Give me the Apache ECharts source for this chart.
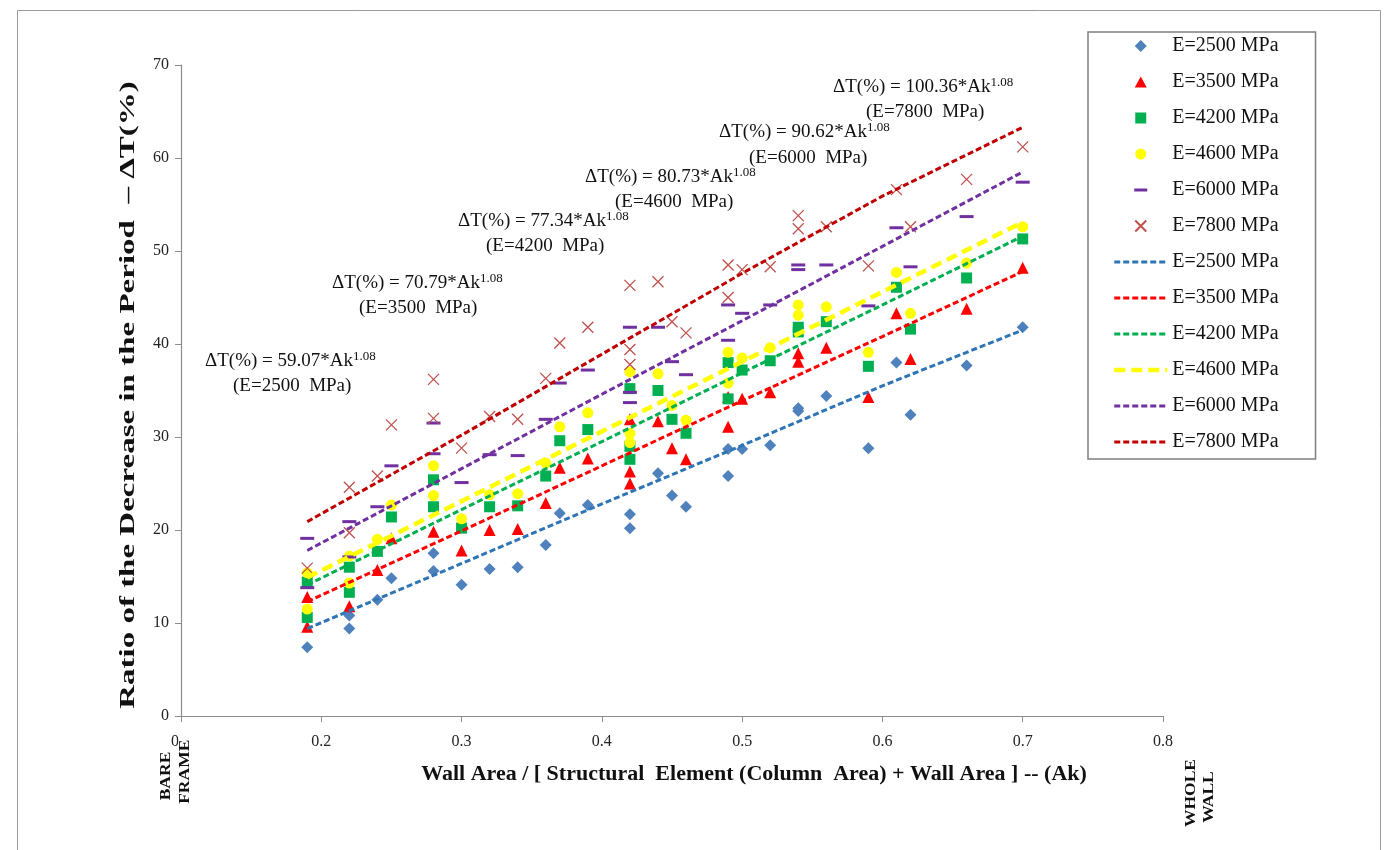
<!DOCTYPE html>
<html>
<head>
<meta charset="utf-8">
<script src="https://cdn.jsdelivr.net/npm/echarts@6/dist/echarts.min.js"></script>
<style>
html,body{margin:0;padding:0;background:#fff;}
#chart{width:1388px;height:850px;}
</style>
</head>
<body>
<div id="chart"></div>
<script>
// ---- data ----
const seriesNames = ['E=2500 MPa','E=3500 MPa','E=4200 MPa','E=4600 MPa','E=6000 MPa','E=7800 MPa'];
const coeffs = ['59.07','70.79','77.34','80.73','90.62','100.36'];
const xTickLabels = ['0.1','0.2','0.3','0.4','0.5','0.6','0.7','0.8'];
const yTickLabels = ['0','10','20','30','40','50','60','70'];

const pts2500 = [[0.19,7.4],[0.22,9.4],[0.22,10.8],[0.24,12.5],[0.25,14.8],[0.28,15.6],[0.28,17.5],[0.30,14.1],[0.32,15.8],[0.34,16.0],[0.36,18.4],[0.37,21.8],[0.39,22.7],[0.42,20.2],[0.42,21.7],[0.44,26.1],[0.45,23.7],[0.46,22.5],[0.49,25.8],[0.49,28.7],[0.50,28.7],[0.52,29.1],[0.54,32.8],[0.54,33.1],[0.56,34.4],[0.59,28.8],[0.61,38.0],[0.62,32.4],[0.66,37.7],[0.70,41.8]];
const pts3500 = [[0.19,9.6],[0.19,12.8],[0.22,11.8],[0.24,15.7],[0.25,19.1],[0.28,19.8],[0.30,17.8],[0.32,20.0],[0.34,20.1],[0.36,22.9],[0.37,26.7],[0.39,27.7],[0.42,25.0],[0.42,26.3],[0.42,31.9],[0.44,31.7],[0.45,28.8],[0.46,27.6],[0.49,31.1],[0.49,34.3],[0.50,34.1],[0.52,34.8],[0.54,38.1],[0.54,39.0],[0.56,39.6],[0.59,34.3],[0.61,43.3],[0.62,38.4],[0.66,43.8],[0.70,48.2]];
const pts4200 = [[0.19,10.6],[0.19,14.4],[0.22,13.3],[0.22,16.0],[0.24,17.7],[0.25,21.4],[0.28,22.5],[0.28,25.4],[0.30,20.2],[0.32,22.5],[0.34,22.6],[0.36,25.8],[0.37,29.6],[0.39,30.8],[0.42,27.6],[0.42,29.0],[0.42,35.2],[0.44,35.0],[0.45,31.9],[0.46,30.4],[0.49,34.1],[0.49,38.0],[0.50,37.2],[0.52,38.2],[0.54,41.3],[0.54,41.8],[0.56,42.4],[0.59,37.6],[0.61,46.1],[0.62,41.6],[0.66,47.1],[0.70,51.3]];
const pts4600 = [[0.19,11.5],[0.19,15.4],[0.22,14.3],[0.22,17.2],[0.24,19.0],[0.25,22.7],[0.28,23.7],[0.28,26.9],[0.30,21.2],[0.32,23.8],[0.34,23.9],[0.36,27.2],[0.37,31.1],[0.39,32.6],[0.42,29.4],[0.42,30.4],[0.42,37.0],[0.44,36.8],[0.45,33.4],[0.46,31.8],[0.49,35.8],[0.49,39.1],[0.50,38.5],[0.52,39.6],[0.54,43.1],[0.54,44.2],[0.56,44.0],[0.59,39.1],[0.61,47.7],[0.62,43.3],[0.66,48.7],[0.70,52.6]];
const pts6000 = [[0.19,13.8],[0.19,19.1],[0.22,17.1],[0.22,20.9],[0.24,22.5],[0.25,26.9],[0.28,28.2],[0.28,31.5],[0.30,25.1],[0.32,28.1],[0.34,28.0],[0.36,31.9],[0.37,35.8],[0.39,37.2],[0.42,33.7],[0.42,34.8],[0.42,41.8],[0.44,41.8],[0.45,38.1],[0.46,36.7],[0.49,40.4],[0.49,44.2],[0.50,43.3],[0.52,44.2],[0.54,48.0],[0.54,48.5],[0.56,48.5],[0.59,44.1],[0.61,52.5],[0.62,48.3],[0.66,53.7],[0.70,57.4]];
const pts7800 = [[0.19,15.9],[0.22,19.7],[0.22,24.6],[0.24,25.8],[0.25,31.3],[0.28,32.0],[0.28,36.2],[0.30,28.8],[0.32,32.2],[0.34,31.9],[0.36,36.3],[0.37,40.1],[0.39,41.8],[0.42,37.8],[0.42,39.4],[0.42,46.3],[0.44,46.7],[0.45,42.4],[0.46,41.2],[0.49,45.0],[0.49,48.5],[0.50,48.0],[0.52,48.3],[0.54,52.4],[0.54,53.8],[0.56,52.6],[0.59,48.4],[0.61,56.6],[0.62,52.6],[0.66,57.7],[0.70,61.2]];

// trend lines, read at Ak = 0.19, 0.3, 0.4, 0.5, 0.6, 0.7
const trendX = [0.19,0.3,0.4,0.5,0.6,0.7];
const fit2500 = [9.4,16.4,22.8,29.1,35.5,41.5];
const fit3500 = [12.3,19.9,26.9,33.9,40.8,47.8];
const fit4200 = [14.1,22.2,29.5,36.9,44.2,51.6];
const fit4600 = [14.9,23.1,30.6,38.1,45.6,53.1];
const fit6000 = [17.8,26.6,34.6,42.5,50.5,58.5];
const fit7800 = [20.9,30.2,38.9,47.6,55.9,63.3];

// ---- styles ----
const F = '"Liberation Serif", "Times New Roman", serif';
const scatterData = [pts2500,pts3500,pts4200,pts4600,pts6000,pts7800];
const fitData = [fit2500,fit3500,fit4200,fit4600,fit6000,fit7800];
const markerColors = ['#4f81bd','#ff0000','#00b050','#ffff00','#7030a0','#c0504d'];
const lineColors = ['#2e75b6','#ff0000','#00b050','#ffff00','#7030a0','#c00000'];
const crossPath = 'path://M0,0L10,10M10,0L0,10';
const markerSymbols = ['diamond','triangle','rect','circle','rect',crossPath];
const markerSizes = [12,12,11,11,[14,3],11];
const legendIcons = [
  'path://M0,0M53,14M26.5,1L32.5,7L26.5,13L20.5,7Z',
  'path://M0,0M53,14M26.5,1.5L32.5,12.5L20.5,12.5Z',
  'path://M0,0M53,14M21,1.5H32V12.5H21Z',
  'path://M0,0M53,14M32,7A5.5,5.5,0,1,1,21,7A5.5,5.5,0,1,1,32,7Z',
  'path://M0,0M53,14M20,5.5H33V8.5H20Z',
  'path://M0,0M53,14M21,1.5L32,12.5M32,1.5L21,12.5'
];

const series = [];
const legendData = [];
seriesNames.forEach((n,i)=>{
  const isCross = i===5;
  series.push({
    name: n, type:'scatter', data: scatterData[i],
    symbol: markerSymbols[i], symbolSize: markerSizes[i], z: 2,
    itemStyle: isCross ? {color:'rgba(0,0,0,0)', borderColor: markerColors[i], borderWidth:1.3, opacity:1}
                       : {color: markerColors[i], opacity:1}
  });
  legendData.push({name:n, icon: legendIcons[i]});
});
seriesNames.forEach((n,i)=>{
  const nm = n + ' ';
  const yellow = i===3;
  const ls = {color: lineColors[i], width: yellow?4.5:3, type: yellow?[11,6]:[6,3]};
  series.push({
    name: nm, type:'line', smooth:false, showSymbol:false, symbol:'none', z: 3,
    data: trendX.map((x,k)=>[x, fitData[i][k]]),
    lineStyle: ls,
    itemStyle:{color:'rgba(0,0,0,0)', borderWidth:0}
  });
  legendData.push({name:nm, itemStyle:{opacity:0, color:'rgba(0,0,0,0)', borderWidth:0}, lineStyle: ls});
});

// annotation texts
const annPos = [[205,362,233,388],[332,284,359,310],[458,222,486,248],[585,178,615,204],[719,133,749,160],[833,88,866,114]];
const graphics = [
  {type:'rect', shape:{x:17.5,y:10.5,width:1363,height:860}, style:{fill:'none', stroke:'#9a9a9a', lineWidth:1}, silent:true, z:-10}
];
coeffs.forEach((c,i)=>{
  const p = annPos[i];
  graphics.push({type:'text', left:p[0], top:p[1]-12, z:10,
    style:{text:'{n|ΔT(%) = '+c+'*Ak}{s|1.08}', rich:{
      n:{fontFamily:F, fontSize:19, fill:'#111', lineHeight:24},
      s:{fontFamily:F, fontSize:13, fill:'#111', padding:[0,0,10,0], lineHeight:24}
    }}});
  graphics.push({type:'text', left:p[2], top:p[3]-11, z:10,
    style:{text:'(E='+seriesNames[i].slice(2,6)+'  MPa)', fontFamily:F, fontSize:19, fill:'#111'}});
});
// axis titles
graphics.push({type:'text', x:754, y:775, scaleX:1.1, z:10,
  style:{text:'Wall Area / [ Structural  Element (Column  Area) + Wall Area ] -- (Ak)', fontFamily:F, fontSize:20, fontWeight:'bold', fill:'#111', align:'center', verticalAlign:'middle'}});
graphics.push({type:'text', x:128, y:395, rotation:Math.PI/2, scaleX:1.5, z:10,
  style:{text:'Ratio of the Decrease in the Period  – ΔT(%)', fontFamily:F, fontSize:22, fontWeight:'bold', fill:'#111', align:'center', verticalAlign:'middle'}});
// BARE FRAME / WHOLE WALL
graphics.push({type:'text', x:166, y:776, rotation:Math.PI/2, scaleX:1.25, z:10,
  style:{text:'BARE', fontFamily:F, fontSize:14, fontWeight:'bold', fill:'#111', align:'center', verticalAlign:'middle'}});
graphics.push({type:'text', x:185, y:768, rotation:Math.PI/2, scaleX:1.25, z:10,
  style:{text:'FRAME', fontFamily:F, fontSize:14, lineHeight:13, fontWeight:'bold', fill:'#111', align:'center', verticalAlign:'middle', backgroundColor:'#fff', padding:[0,8,0,2]}});
graphics.push({type:'text', x:1191, y:793, rotation:Math.PI/2, scaleX:1.25, z:10,
  style:{text:'WHOLE', fontFamily:F, fontSize:14, fontWeight:'bold', fill:'#111', align:'center', verticalAlign:'middle'}});
graphics.push({type:'text', x:1209, y:797, rotation:Math.PI/2, scaleX:1.25, z:10,
  style:{text:'WALL', fontFamily:F, fontSize:14, fontWeight:'bold', fill:'#111', align:'center', verticalAlign:'middle'}});

const chart = echarts.init(document.getElementById('chart'), null, {renderer:'canvas'});
chart.setOption({
  animation:false,
  backgroundColor:'#fff',
  grid:{left:181, top:65, width:982, height:651, containLabel:false},
  xAxis:{type:'value', min:0.1, max:0.8, interval:0.1,
    axisLine:{show:true, lineStyle:{color:'#8c8c8c', width:1.2}},
    axisTick:{show:true, length:6, lineStyle:{color:'#8c8c8c'}},
    splitLine:{show:false},
    axisLabel:{fontFamily:F, fontSize:16, color:'#222', margin:18,
      formatter:(v)=>{const k=Math.round((v-0.1)*10); return xTickLabels[k]||'';}}
  },
  yAxis:{type:'value', min:0, max:70, interval:10,
    axisLine:{show:true, lineStyle:{color:'#8c8c8c', width:1.2}},
    axisTick:{show:true, length:6, lineStyle:{color:'#8c8c8c'}},
    splitLine:{show:false},
    axisLabel:{fontFamily:F, fontSize:16, color:'#222', margin:12,
      formatter:(v)=>yTickLabels[Math.round(v/10)]}
  },
  legend:{orient:'vertical', left:1088, top:32, itemWidth:53, itemHeight:14, itemGap:16,
    padding:[4,37,7,24], borderColor:'#7f7f7f', borderWidth:1.5, backgroundColor:'#fff',
    selectedMode:false, data:legendData,
    formatter:(n)=>n.trim(),
    textStyle:{fontFamily:F, fontSize:20, color:'#111'}},
  graphic: graphics,
  series: series
});
</script>
</body>
</html>
